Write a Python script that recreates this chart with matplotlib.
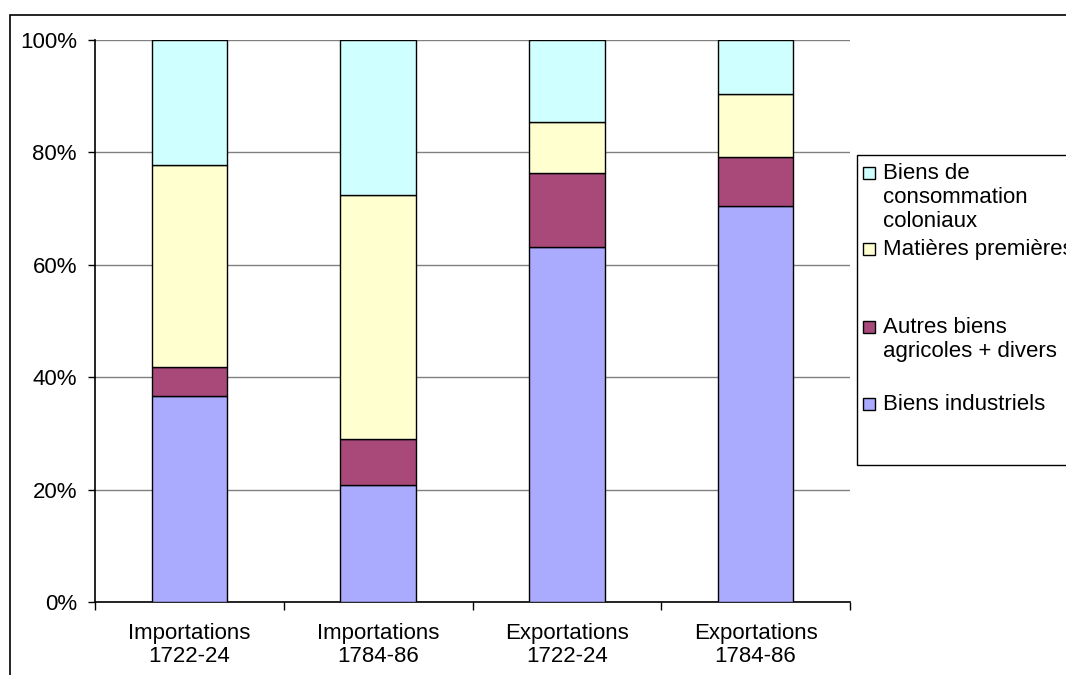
import numpy as np
import matplotlib
matplotlib.use('Agg')
import matplotlib.pyplot as plt
from matplotlib.patches import Rectangle

plt.rcParams['font.family'] = ['Liberation Sans', 'DejaVu Sans']

# data (parts in %)
categories = ['Importations\n1722-24', 'Importations\n1784-86',
              'Exportations\n1722-24', 'Exportations\n1784-86']
industriels = [36.6, 20.8, 63.2, 70.5]
agricoles = [5.2, 8.2, 13.1, 8.7]
matieres = [36.0, 43.4, 9.1, 11.2]
coloniaux = [22.2, 27.6, 14.6, 9.6]

series_names = ['Biens industriels', 'Autres biens\nagricoles + divers',
                'Matières premières', 'Biens de\nconsommation\ncoloniaux']
colors = ['#aaaaff', '#a8497a', '#ffffd0', '#d0ffff']

fs = 16
fig = plt.figure(figsize=(10.66, 6.75), dpi=100)
ax = fig.add_axes([95/1066, 1-602/675, 755/1066, 562/675])

x = np.arange(len(categories))
bottom = np.zeros(len(categories))
for vals, col in zip([industriels, agricoles, matieres, coloniaux], colors):
    ax.bar(x, vals, bottom=bottom, width=0.4, color=col, edgecolor='black',
           linewidth=1, zorder=3)
    bottom += np.array(vals)

ax.set_xlim(-0.5, len(categories) - 0.5)
ax.set_ylim(0, 100)
ax.set_yticks(np.arange(0, 101, 20))
ax.set_yticklabels([f'{v}%' for v in range(0, 101, 20)], fontsize=fs)
ax.yaxis.grid(True, color='#808080', linewidth=1, zorder=0)
ax.set_xticks(x)
ax.set_xticklabels(categories, fontsize=fs, linespacing=1.12)
ax.tick_params(axis='x', length=0, pad=15)
# category boundary ticks
ax.set_xticks(np.arange(-0.5, len(categories)), minor=True)
ax.tick_params(axis='x', which='minor', length=6, width=1, direction='out')
ax.tick_params(axis='y', length=5, width=1, direction='out', pad=8)
for s in ['top', 'right']:
    ax.spines[s].set_visible(False)
ax.spines['left'].set_linewidth(1.2)
ax.spines['bottom'].set_linewidth(1.2)

# outer chart border
fig.patches.append(Rectangle((10/1066, -0.1), 1.1, 1-15/675 + 0.1, transform=fig.transFigure,
                             fill=False, edgecolor='black', linewidth=1.2))

# legend drawn by hand
fig.patches.append(Rectangle((857/1066, 1-465/675), 0.3, 310/675, transform=fig.transFigure,
                             fill=False, edgecolor='black', linewidth=1))
leg_y = [173, 249, 327, 404]
order = [3, 2, 1, 0]
for yy, i in zip(leg_y, order):
    fig.patches.append(Rectangle((863/1066, 1-(yy+6)/675), 12/1066, 12/675,
                                 transform=fig.transFigure, facecolor=colors[i],
                                 edgecolor='black', linewidth=1))
    fig.text(883/1066, 1-(yy-10)/675, series_names[i], fontsize=fs, va='top',
             ha='left', linespacing=1.2)

fig.savefig('out.png', dpi=100)
